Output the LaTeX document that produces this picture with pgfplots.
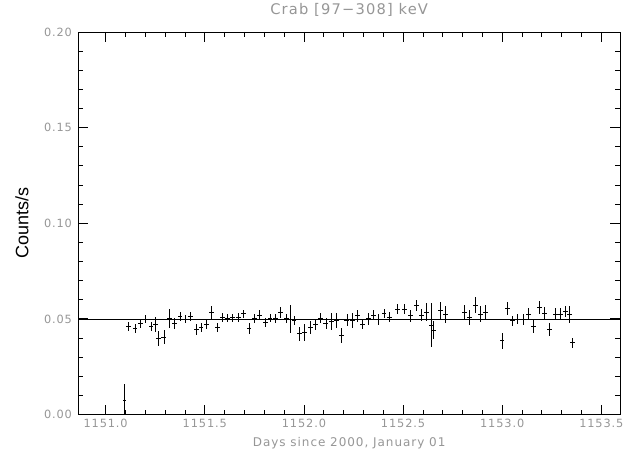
\documentclass[border=0pt]{standalone}
\usepackage{pgfplots}
\pgfplotsset{compat=1.18}
\usepackage{pgfplotstable}
\usepackage{fontspec}
\setmainfont{Liberation Sans}
\newfontfamily\idlfont[LetterSpace=8]{DejaVu Sans}
\definecolor{idlgray}{RGB}{150,150,150}
\pgfplotstableread{
x y ex ey
1151.096 0.0075 0.008 0.0085
1151.114 0.0461 0.0125 0.0022
1151.148 0.0449 0.0125 0.0022
1151.175 0.0475 0.0125 0.0022
1151.202 0.0498 0.0125 0.0022
1151.229 0.0461 0.0125 0.0025
1151.250 0.0471 0.0125 0.0040
1151.267 0.0398 0.0125 0.0040
1151.294 0.0405 0.0125 0.0035
1151.321 0.0501 0.0125 0.0050
1151.346 0.0475 0.0125 0.0028
1151.375 0.0513 0.0125 0.0025
1151.400 0.0499 0.0125 0.0022
1151.429 0.0513 0.0125 0.0022
1151.456 0.0445 0.0125 0.0028
1151.481 0.0456 0.0125 0.0025
1151.508 0.0470 0.0125 0.0025
1151.535 0.0534 0.0125 0.0035
1151.562 0.0456 0.0125 0.0025
1151.588 0.0508 0.0125 0.0025
1151.616 0.0505 0.0125 0.0022
1151.641 0.0506 0.0125 0.0022
1151.668 0.0508 0.0125 0.0022
1151.694 0.0527 0.0125 0.0022
1151.723 0.0451 0.0125 0.0028
1151.750 0.0503 0.0125 0.0022
1151.777 0.0520 0.0125 0.0025
1151.804 0.0482 0.0125 0.0022
1151.829 0.0505 0.0125 0.0022
1151.856 0.0501 0.0125 0.0025
1151.883 0.0534 0.0125 0.0030
1151.910 0.0503 0.0125 0.0022
1151.931 0.0499 0.0125 0.0075
1151.950 0.0492 0.0125 0.0022
1151.976 0.0422 0.0125 0.0035
1152.003 0.0430 0.0125 0.0045
1152.031 0.0454 0.0125 0.0035
1152.058 0.0472 0.0125 0.0028
1152.084 0.0504 0.0125 0.0025
1152.111 0.0477 0.0125 0.0030
1152.137 0.0486 0.0125 0.0045
1152.164 0.0493 0.0125 0.0040
1152.190 0.0413 0.0125 0.0037
1152.217 0.0494 0.0125 0.0030
1152.243 0.0492 0.0125 0.0040
1152.270 0.0516 0.0125 0.0030
1152.297 0.0471 0.0125 0.0025
1152.324 0.0500 0.0125 0.0030
1152.350 0.0520 0.0125 0.0025
1152.377 0.0497 0.0125 0.0030
1152.404 0.0528 0.0125 0.0025
1152.431 0.0510 0.0125 0.0025
1152.473 0.0552 0.0125 0.0025
1152.508 0.0551 0.0125 0.0025
1152.537 0.0516 0.0125 0.0030
1152.566 0.0570 0.0125 0.0030
1152.593 0.0520 0.0125 0.0030
1152.620 0.0536 0.0125 0.0045
1152.644 0.0468 0.0125 0.0115
1152.655 0.0442 0.0125 0.0048
1152.687 0.0542 0.0125 0.0045
1152.715 0.0521 0.0125 0.0045
1152.809 0.0532 0.0125 0.0040
1152.836 0.0507 0.0125 0.0040
1152.863 0.0573 0.0125 0.0040
1152.890 0.0525 0.0125 0.0040
1152.917 0.0534 0.0125 0.0040
1152.999 0.0385 0.0125 0.0040
1153.025 0.0553 0.0125 0.0035
1153.052 0.0490 0.0125 0.0025
1153.079 0.0498 0.0125 0.0025
1153.105 0.0498 0.0125 0.0030
1153.132 0.0525 0.0125 0.0030
1153.159 0.0459 0.0125 0.0035
1153.186 0.0561 0.0125 0.0035
1153.213 0.0529 0.0125 0.0035
1153.240 0.0444 0.0125 0.0035
1153.267 0.0525 0.0125 0.0030
1153.294 0.0525 0.0125 0.0030
1153.321 0.0540 0.0125 0.0030
1153.340 0.0525 0.0125 0.0045
1153.355 0.0375 0.0125 0.0025
}\crabdata
\begin{document}
\begin{tikzpicture}
\useasboundingbox (-58.7pt,-31.1pt) rectangle (410.8pt,310.9pt);
\begin{axis}[
  at={(0,0)}, anchor=south west,
  scale only axis,
  width=406.3pt, height=286.9pt,
  xmin=1150.862, xmax=1153.594,
  ymin=0, ymax=0.2,
  xtick={1151,1151.5,1152,1152.5,1153,1153.5},
  ytick={0,0.05,0.1,0.15,0.2},
  minor x tick num=4,
  minor y tick num=4,
  tick align=inside,
  major tick length=7.5pt,
  minor tick length=3.75pt,
  axis line style={black, line width=0.6pt},
  every tick/.style={black, line width=0.6pt},
  /pgf/number format/assume math mode=true,
  ticklabel style={font=\idlfont\fontsize{8.5}{10}\selectfont, text=idlgray},
  xticklabel style={/pgf/number format/.cd, fixed, fixed zerofill, precision=1, 1000 sep={}},
  yticklabel style={xshift=-1.2pt, /pgf/number format/.cd, fixed, fixed zerofill, precision=2},
  every axis title shift=0pt,
  title={Crab [97\textminus308] keV},
  title style={at={(axis description cs:0.5,1.0575)}, anchor=center, font=\idlfont\fontsize{11}{13}\selectfont, text=idlgray},
  xlabel={Days since 2000, January 01},
  xlabel style={at={(axis description cs:0.5,-0.0746)}, anchor=center, font=\idlfont\fontsize{9}{11}\selectfont, text=idlgray},
  ylabel={Counts/s},
  ylabel style={at={(axis description cs:-0.1039,0.5)}, anchor=center, font=\fontsize{13.5}{16}\selectfont, text=black},
]
\addplot[draw=none, mark=none,
  error bars/.cd, x dir=both, x explicit, y dir=both, y explicit,
  error mark=none, error bar style={draw=black, solid, line width=0.6pt}]
  table[x=x, y=y, x error=ex, y error=ey] {\crabdata};
\addplot[black, line width=0.6pt, mark=none] coordinates {(1150.862,0.0497) (1153.594,0.0497)};
\end{axis}
\end{tikzpicture}
\end{document}
